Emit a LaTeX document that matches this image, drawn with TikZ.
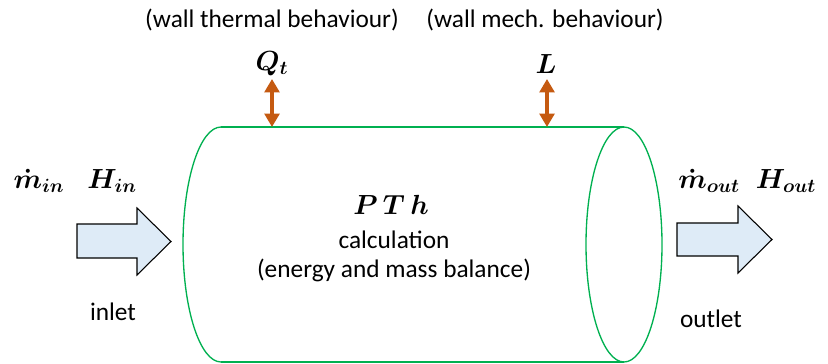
\documentclass[tikz,border=0pt]{standalone}
\usepackage{amsmath}
\usepackage{fontspec}
\setmainfont{Carlito}
\usetikzlibrary{arrows.meta}
\definecolor{pipegreen}{RGB}{0,176,80}
\definecolor{wallorange}{RGB}{197,90,17}
\definecolor{flowfill}{RGB}{222,235,247}
\begin{document}
\begin{tikzpicture}[x=0.75pt,y=-0.75pt,
  lbl/.style={font=\fontsize{19}{23}\selectfont, inner sep=0},
  mth/.style={font=\fontsize{22}{26}\selectfont, inner sep=0},
  pipe/.style={draw=pipegreen, line width=1pt},
  wallarrow/.style={draw=wallorange, line width=2.6pt, {Triangle[length=10pt,width=11pt]}-{Triangle[length=10pt,width=11pt]}},
  flow/.style={draw=black, line width=0.8pt, fill=flowfill, line join=miter}]
\useasboundingbox (0,0) rectangle (828,364);
% cylinder
\draw[pipe] (221,127) -- (624,127);
\draw[pipe] (221,362) -- (624,362);
\draw[pipe] (221,127) arc[start angle=270, end angle=90, x radius=38, y radius=117.5];
\draw[pipe] (624,244.5) ellipse[x radius=38, y radius=117.5];
\coordinate (topQ) at (272,127);
\coordinate (topL) at (547,127);
% top labels
\node[lbl] (thermal) at (272,20) {(wall thermal behaviour)};
\node[lbl] (mech) at (545,20) {(wall mech. behaviour)};
\node[mth] (Qt) at (272,64) {$\boldsymbol{Q_t}$};
\node[mth] (L) at (546,64) {$\boldsymbol{L}$};
\coordinate (Qtop) at (272,79);
\coordinate (Ltop) at (547,79);
\draw[wallarrow] (Qtop) -- (topQ);
\draw[wallarrow] (Ltop) -- (topL);
% centre text
\node[mth] (pth) at (391,205) {$\boldsymbol{P\,T\,h}$};
\node[lbl] (calc) at (394,240) {calculation};
\node[lbl] (bal) at (394,270) {(energy and mass balance)};
% inlet
\node[mth] (min) at (39,181) {$\boldsymbol{\dot m_{in}}$};
\node[mth] (Hin) at (112,181) {$\boldsymbol{H_{in}}$};
\draw[flow] (77,224) -- (137,224) -- (137,208) -- (171,241.5) -- (137,275) -- (137,258) -- (77,258) -- cycle;
\node[lbl] (inlet) at (113,312) {inlet};
% outlet
\node[mth] (mout) at (709,181) {$\boldsymbol{\dot m_{out}}$};
\node[mth] (Hout) at (786,181) {$\boldsymbol{H_{out}}$};
\draw[flow] (677,223) -- (738,223) -- (738,206) -- (772,239.5) -- (738,273) -- (738,256) -- (677,256) -- cycle;
\node[lbl] (outlet) at (711,319) {outlet};
\end{tikzpicture}
\end{document}
